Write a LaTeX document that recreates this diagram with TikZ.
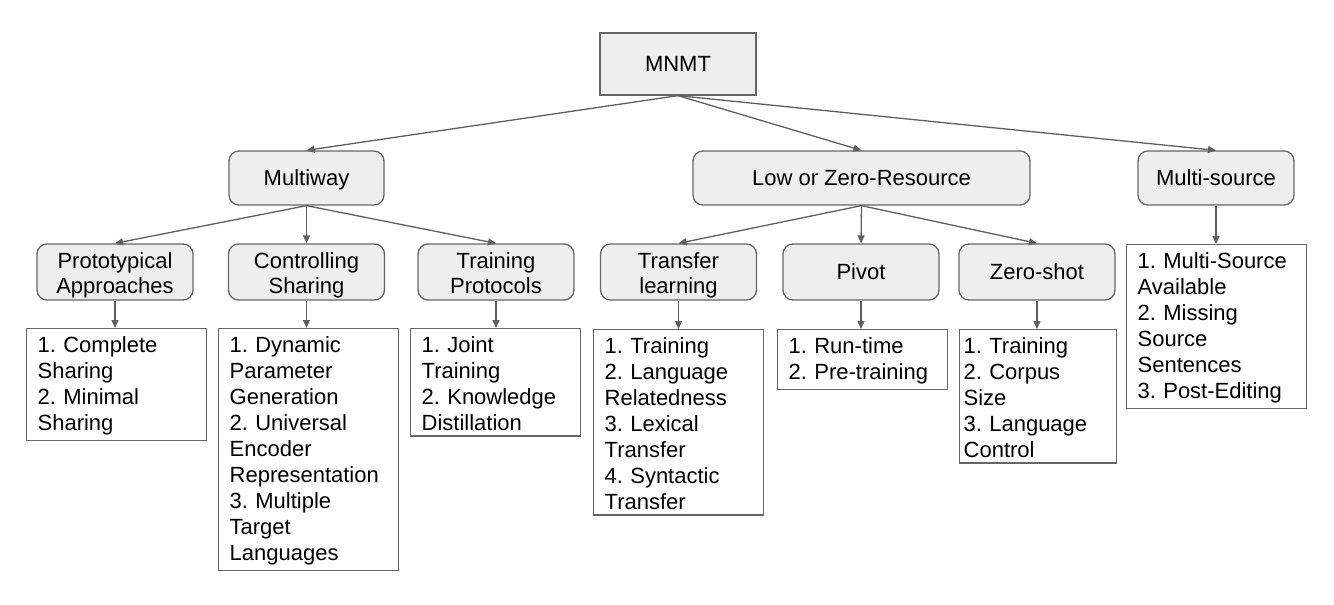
\documentclass[tikz,border=0pt]{standalone}
\usepackage{fontspec}
\setmainfont{Liberation Sans}
\usetikzlibrary{arrows.meta}
\definecolor{boxfill}{HTML}{EEEEEE}
\definecolor{edgegray}{HTML}{666666}
\definecolor{linkgray}{HTML}{5F5F5F}
\frenchspacing
\begin{document}
\begin{tikzpicture}[x=1pt, y=-1pt,
		every node/.style={font=\fontsize{22}{26}\selectfont},
		root/.style={draw=edgegray, line width=1.3pt, fill=boxfill, minimum width=156pt, minimum height=62pt, text height=15pt, text depth=0pt},
		group/.style={draw=edgegray, line width=1.3pt, fill=boxfill, rounded corners=10pt, minimum height=54pt, text height=15pt, text depth=0pt},
		method/.style={group, minimum width=156pt, minimum height=56pt, align=center, font=\fontsize{22}{25}\selectfont},
		twoline/.style={text height=44pt, text depth=2pt},
		items/.style={draw=edgegray, line width=1.3pt, anchor=north west, align=left, inner xsep=11pt, inner ysep=5pt, text height=19pt, text width=#1},
		link/.style={draw=linkgray, line width=1.3pt, -{Triangle[length=8pt, width=7pt]}}]
		\useasboundingbox (0, 0) rectangle (1334, 605);

		% radice
		\node[root] (mnmt) at (678, 64) {MNMT};

		% gruppi
		\node[group, minimum width=155pt] (multiway) at (306.5, 178) {Multiway};
		\node[group, minimum width=337pt] (lowzero) at (861.5, 178) {Low or Zero-Resource};
		\node[group, minimum width=156pt] (multisrc) at (1216, 178) {Multi-source};

		% metodi
		\node[method, twoline] (proto) at (115, 272) {Prototypical\\Approaches};
		\node[method, twoline] (ctrl) at (306.5, 272) {Controlling\\Sharing};
		\node[method, twoline] (protocols) at (496, 272) {Training\\Protocols};
		\node[method, twoline] (transfer) at (678.5, 272) {Transfer\\learning};
		\node[method] (pivot) at (861, 272) {Pivot};
		\node[method] (zeroshot) at (1037, 272) {Zero-shot};

		% elenchi
		\node[items=158pt] (protolist) at (26, 328) {1. Complete\\Sharing\\2. Minimal\\Sharing};
		\node[items=158pt] (ctrllist) at (218, 328) {1. Dynamic\\Parameter\\Generation\\2. Universal\\Encoder\\Representation\\3. Multiple\\Target\\Languages};
		\node[items=148pt] (protocolslist) at (410, 328) {1. Joint\\Training\\2. Knowledge\\Distillation};
		\node[items=148pt] (transferlist) at (593, 329) {1. Training\\2. Language\\Relatedness\\3. Lexical\\Transfer\\4. Syntactic\\Transfer};
		\node[items=148pt] (pivotlist) at (777, 329) {1. Run-time\\2. Pre-training};
		\node[items=149pt, inner xsep=4pt] (zeroshotlist) at (959, 329) {1. Training\\2. Corpus\\Size\\3. Language\\Control};
		\node[items=158pt] (multisrclist) at (1126, 244) {1. Multi-Source\\Available\\2. Missing\\Source\\Sentences\\3. Post-Editing};

		% frecce
		\foreach \g in {multiway, lowzero, multisrc}
			\draw[link] (mnmt.south) -- (\g.north);
		\foreach \m in {proto, ctrl, protocols}
			\draw[link] (multiway.south) -- (\m.north);
		\foreach \m in {transfer, pivot, zeroshot}
			\draw[link] (lowzero.south) -- (\m.north);
		\foreach \m in {proto, ctrl, protocols, transfer, pivot, zeroshot, multisrc}
			\draw[link] (\m.south) -- (\m.south |- \m list.north);
	\end{tikzpicture}
\end{document}
